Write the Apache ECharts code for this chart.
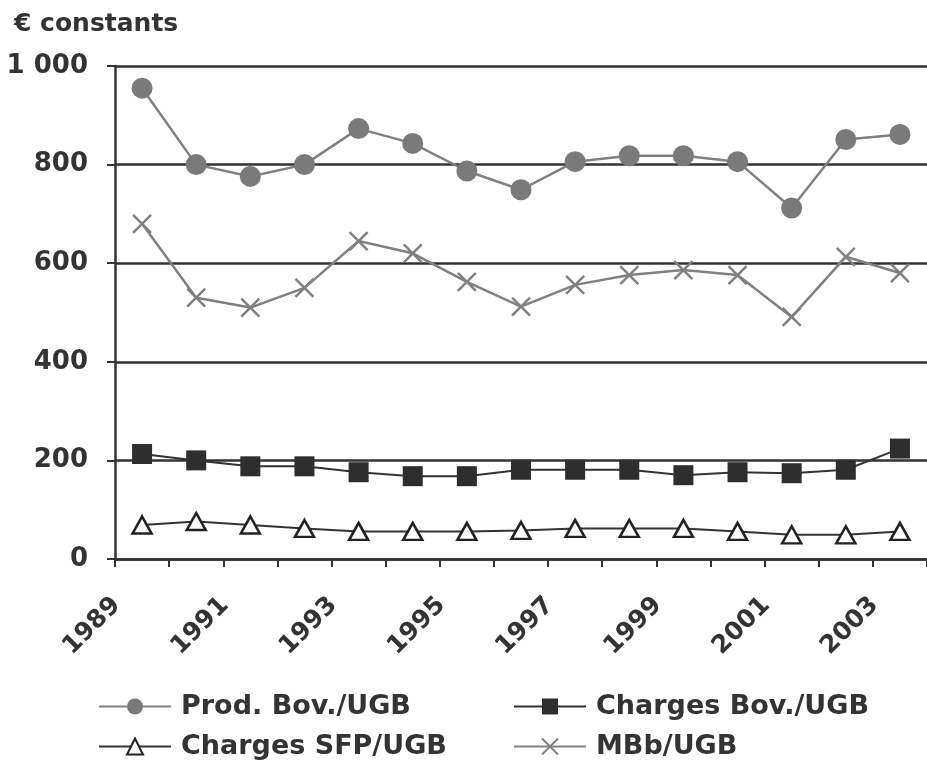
<!DOCTYPE html>
<html>
<head>
<meta charset="utf-8">
<script src="https://cdn.jsdelivr.net/npm/echarts@6/dist/echarts.min.js"></script>
<style>
  html, body { margin: 0; padding: 0; background: #ffffff; }
  #chart { width: 927px; height: 767px; }
</style>
</head>
<body>
<div id="chart"></div>
<script>
// Years on the category axis
const years = ['1989', '1990', '1991', '1992', '1993', '1994', '1995', '1996',
               '1997', '1998', '1999', '2000', '2001', '2002', '2003'];

// Values per UGB, constant euros
const prodBov    = [955, 800, 776, 800, 873, 843, 787, 749, 806, 818, 818, 806, 712, 851, 861];
const chargesBov = [213, 200, 188, 188, 176, 168, 168, 181, 181, 181, 170, 176, 174, 181, 224];
const chargesSfp = [69, 76, 69, 62, 56, 56, 56, 58, 62, 62, 62, 56, 49, 49, 56];
const mbb        = [680, 530, 510, 550, 645, 620, 562, 512, 556, 576, 586, 576, 491, 613, 580];

// Value axis ticks and their printed labels
const yTicks = [0, 200, 400, 600, 800, 1000];
const yTickLabels = ['0', '200', '400', '600', '800', '1 000'];

const seriesNames = ['Prod. Bov./UGB', 'Charges Bov./UGB', 'Charges SFP/UGB', 'MBb/UGB'];

const FONT = 'DejaVu Sans';
const INK = '#333333';
const GREY = '#808080';

const legendBase = {
  orient: 'horizontal',
  padding: 0,
  itemWidth: 72,
  itemHeight: 20,
  textStyle: { fontFamily: FONT, fontSize: 27, fontWeight: 'bold', color: INK, padding: [0, 0, 0, 5] }
};

const chart = echarts.init(document.getElementById('chart'), null, { renderer: 'canvas' });

chart.setOption({
  animation: false,
  backgroundColor: '#ffffff',
  title: {
    text: '€ constants',
    left: 14,
    top: 12,
    padding: 0,
    textStyle: { fontFamily: FONT, fontSize: 25, fontWeight: 'bold', color: INK }
  },
  legend: [
    Object.assign({ data: [seriesNames[0]], left: 98, top: 693 }, legendBase),
    Object.assign({ data: [seriesNames[1]], left: 513, top: 693 }, legendBase),
    Object.assign({ data: [seriesNames[2]], left: 98, top: 733 }, legendBase),
    Object.assign({ data: [seriesNames[3]], left: 513, top: 733 }, legendBase)
  ],
  grid: { left: 115, right: -5, top: 66, bottom: 208, containLabel: false },
  xAxis: {
    type: 'category',
    data: years,
    boundaryGap: true,
    axisLine: { show: true, lineStyle: { color: INK, width: 2.5 } },
    axisTick: { show: true, interval: 0, length: 8, lineStyle: { color: INK, width: 2 } },
    axisLabel: {
      interval: 1,
      rotate: 45,
      margin: 17,
      padding: [0, 36, 0, 0],
      fontFamily: FONT,
      fontSize: 25,
      fontWeight: 'bold',
      color: INK
    },
    splitLine: { show: false }
  },
  yAxis: {
    type: 'value',
    min: 0,
    max: 1000,
    interval: 200,
    axisLine: { show: true, lineStyle: { color: INK, width: 2.5 } },
    axisTick: { show: true, length: 8, lineStyle: { color: INK, width: 2 } },
    axisLabel: {
      margin: 27,
      fontFamily: FONT,
      fontSize: 26,
      fontWeight: 'bold',
      color: INK,
      formatter: function (v) { return yTickLabels[yTicks.indexOf(v)]; }
    },
    splitLine: { show: true, lineStyle: { color: INK, width: 2.5 } }
  },
  series: [
    {
      name: seriesNames[0],
      type: 'line',
      data: prodBov,
      symbol: 'circle',
      symbolSize: 21,
      lineStyle: { color: GREY, width: 2.5 },
      itemStyle: { color: '#7a7a7a' },
      z: 3
    },
    {
      name: seriesNames[1],
      type: 'line',
      data: chargesBov,
      symbol: 'rect',
      symbolSize: 20,
      lineStyle: { color: INK, width: 2 },
      itemStyle: { color: '#2e2e2e' },
      z: 3
    },
    {
      name: seriesNames[2],
      type: 'line',
      data: chargesSfp,
      symbol: 'triangle',
      symbolSize: [19, 17],
      lineStyle: { color: INK, width: 2 },
      itemStyle: { color: '#ffffff', borderColor: '#222222', borderWidth: 2.5 },
      z: 3
    },
    {
      name: seriesNames[3],
      type: 'line',
      data: mbb,
      symbol: 'path://M0,0L20,20M20,0L0,20',
      symbolSize: 18,
      lineStyle: { color: GREY, width: 2.5 },
      itemStyle: { color: GREY, borderColor: GREY, borderWidth: 2.5 },
      z: 3
    }
  ]
});
</script>
</body>
</html>
